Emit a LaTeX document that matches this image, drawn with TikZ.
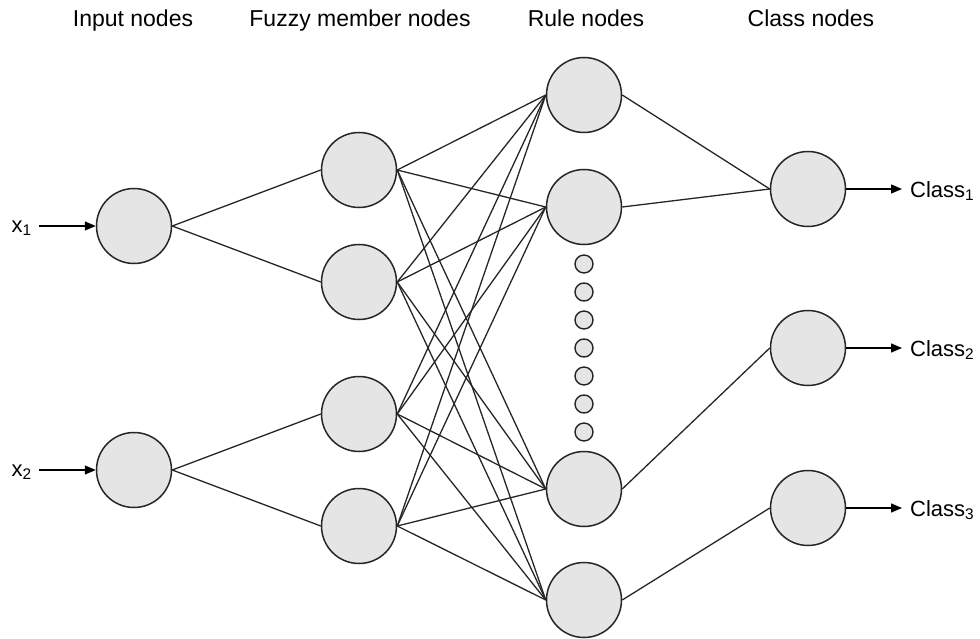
\documentclass[tikz,border=0pt]{standalone}
\usepackage{fontspec}
\setmainfont{Liberation Sans}
\usepackage{tikz}
\usetikzlibrary{arrows.meta}

\begin{document}
\begin{tikzpicture}[x=1pt, y=-1pt,
    neuron/.style={circle, draw=black!85, line width=1.5pt, fill=gray!20, minimum size=75pt, inner sep=0pt},
    dotnode/.style={circle, draw=black!85, line width=1.4pt, fill=gray!20, minimum size=18pt, inner sep=0pt},
    link/.style={line width=1.3pt, black!85},
    arrow/.style={line width=1.3pt, -{Triangle[length=11pt, width=9pt]}},
    header/.style={anchor=base, font=\fontsize{23}{27}\selectfont},
    label/.style={inner sep=0pt, font=\fontsize{22}{26}\selectfont}]
    \useasboundingbox (0,0) rectangle (980,639);
    \node[header] (hin) at (133,27) {Input nodes};
    \node[header] (hfz) at (360,27) {Fuzzy member nodes};
    \node[header] (hru) at (586,27) {Rule nodes};
    \node[header] (hcl) at (811,27) {Class nodes};
    \node[neuron] (in1) at (134,226) {};
    \node[neuron] (in2) at (134,470) {};
    \node[neuron] (fz1) at (359,170) {};
    \node[neuron] (fz2) at (359,282) {};
    \node[neuron] (fz3) at (359,414) {};
    \node[neuron] (fz4) at (359,526) {};
    \node[neuron] (ru1) at (584,95) {};
    \node[neuron] (ru2) at (584,207) {};
    \node[neuron] (ru3) at (584,489) {};
    \node[neuron] (ru4) at (584,600) {};
    \foreach \i in {0,...,6}
        \node[dotnode] (dt\i) at (584,264+28*\i) {};
    \node[neuron] (cl1) at (808,189) {};
    \node[neuron] (cl2) at (808,348) {};
    \node[neuron] (cl3) at (808,508) {};
    \node[label, anchor=east] (lx1) at (32,228) {x\textsubscript{1}};
    \node[label, anchor=east] (lx2) at (32,472) {x\textsubscript{2}};
    \draw[arrow] (lx1.east) ++(7,-2) coordinate (sx1) -- (in1.west);
    \draw[arrow] (lx2.east) ++(7,-2) coordinate (sx2) -- (in2.west);
    \draw[link] (in1.east) -- (fz1.west);
    \draw[link] (in1.east) -- (fz2.west);
    \draw[link] (in2.east) -- (fz3.west);
    \draw[link] (in2.east) -- (fz4.west);
    \foreach \f in {1,...,4}
        \foreach \r in {1,...,4}
            \draw[link] (fz\f.east) -- (ru\r.west);
    \draw[link] (ru1.east) -- (cl1.west);
    \draw[link] (ru2.east) -- (cl1.west);
    \draw[link] (ru3.east) -- (cl2.west);
    \draw[link] (ru4.east) -- (cl3.west);
    \node[label, anchor=west] (lc1) at (910,191) {Class\textsubscript{1}};
    \node[label, anchor=west] (lc2) at (910,350) {Class\textsubscript{2}};
    \node[label, anchor=west] (lc3) at (910,510) {Class\textsubscript{3}};
    \draw[arrow] (cl1.east) -- (902,189) coordinate (ec1);
    \draw[arrow] (cl2.east) -- (902,348) coordinate (ec2);
    \draw[arrow] (cl3.east) -- (902,508) coordinate (ec3);
\end{tikzpicture}
\end{document}
